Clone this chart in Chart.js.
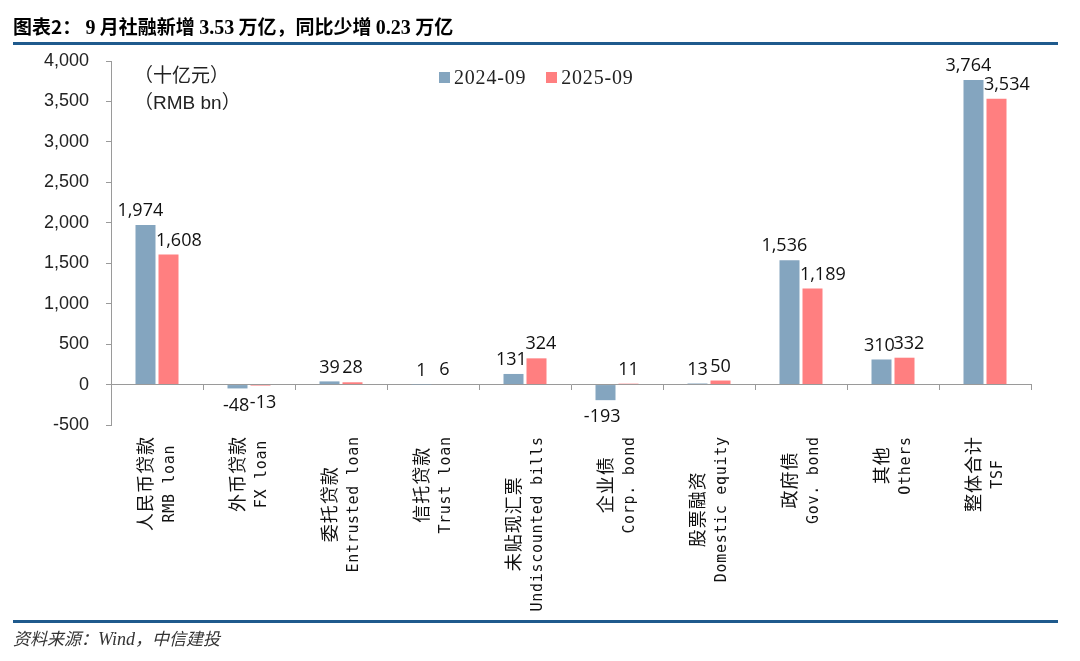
<!DOCTYPE html>
<html><head><meta charset="utf-8">
<script src="https://cdn.jsdelivr.net/npm/chart.js@4.4.1/dist/chart.umd.min.js"></script>
<style>
body{margin:0;width:1080px;height:661px;background:#fff;position:relative;overflow:hidden;font-family:"Noto Sans CJK SC",sans-serif;}
#title{position:absolute;left:13px;top:12px;font-size:19px;font-weight:bold;color:#000;white-space:nowrap;}
#title .n{font-family:"Liberation Serif",serif;font-weight:bold;font-size:20px;}
#topline{position:absolute;left:13px;top:42px;width:1045px;height:3px;background:#1f5a8d}
#botline{position:absolute;left:13px;top:620px;width:1045px;height:3px;background:#1f5a8d}
#src{position:absolute;left:13px;top:625px;font-size:17px;font-style:italic;color:#333}
#src .n{font-family:"Liberation Serif",serif;font-size:18px}
#wrap{position:absolute;left:0;top:0;width:1080px;height:661px}
#unit{position:absolute;left:134px;top:60px;font-size:19px;color:#222;line-height:27px}
#unit .l{font-family:"Liberation Sans",sans-serif;font-size:19px}
#legend{position:absolute;left:439px;top:66px;display:flex;font-family:"Liberation Serif",serif;font-size:20px;color:#222;letter-spacing:0.8px}
#legend .it{display:flex;align-items:center;margin-right:20px}
#legend .bx{width:11px;height:11px;margin-right:4px}
</style>
</head><body>
<div id="wrap"><canvas id="c" width="1080" height="661"></canvas></div>
<div id="title">图表2： <span class="n">9</span> 月社融新增 <span class="n">3.53</span> 万亿，同比少增 <span class="n">0.23</span> 万亿</div>
<div id="topline"></div>
<div id="unit">（十亿元）<br>（<span class="l">RMB bn</span>）</div>
<div id="legend"></div>
<div id="botline"></div>
<div id="src">资料来源：<span class="n">Wind</span>，中信建投</div>
<script>
const categoriesCN = ['人民币贷款','外币贷款','委托贷款','信托贷款','未贴现汇票','企业债','股票融资','政府债','其他','整体合计'];
const categoriesEN = ['RMB loan','FX loan','Entrusted loan','Trust loan','Undiscounted bills','Corp. bond','Domestic equity','Gov. bond','Others','TSF'];
const seriesNames = ['2024-09','2025-09'];
const series2024 = [1974,-48,39,1,131,-193,13,1536,310,3764];
const series2025 = [1608,-13,28,6,324,11,50,1189,332,3534];
const yMin = -500, yMax = 4000, yStep = 500;
const colors = ['#84a5bf','#ff7f80'];

const lg = document.getElementById('legend');
seriesNames.forEach((n,i)=>{
  const d=document.createElement('div');d.className='it';
  d.innerHTML='<span class="bx" style="background:'+colors[i]+'"></span>'+n;
  lg.appendChild(d);
});

const fmt = v => v.toLocaleString('en-US');

const dataLabels = {
  id:'dataLabels',
  afterDatasetsDraw(chart){
    const ctx=chart.ctx;
    ctx.save();
    ctx.font='18px "Open Sans", sans-serif';
    ctx.fillStyle='#111';
    ctx.textAlign='center';
    chart.data.datasets.forEach((ds,di)=>{
      const meta=chart.getDatasetMeta(di);
      meta.data.forEach((bar,i)=>{
        const v=ds.data[i];
        const t=fmt(v);
        const w=ctx.measureText(t).width;
        const bw=bar.width;
        let dx=0;
        if(w>bw+6){ dx = di===0 ? -(w-bw)/5 : (w-bw)/2.5; }
        if(v>=0){ctx.textBaseline='bottom';ctx.fillText(t,bar.x+dx,bar.y-5);}
        else {ctx.textBaseline='top';ctx.fillText(t,bar.x+dx,bar.y+8);}
      });
    });
    ctx.restore();
  }
};

const xLabels = {
  id:'xLabels',
  afterDraw(chart){
    const ctx=chart.ctx, xs=chart.scales.x;
    const top=chart.chartArea.bottom+12;
    const cnFont='18px "Noto Sans CJK SC", sans-serif', cnLS=1;
    const enFont='15px "DejaVu Sans Mono", monospace', enLS=0.7;
    ctx.save();
    ctx.fillStyle='#111';
    categoriesCN.forEach((cn,i)=>{
      const en=categoriesEN[i];
      const x=xs.getPixelForValue(i);
      ctx.font=cnFont; ctx.letterSpacing=cnLS+'px';
      const w1=ctx.measureText(cn).width-cnLS;
      ctx.font=enFont; ctx.letterSpacing=enLS+'px';
      const w2=ctx.measureText(en).width-enLS;
      const L=Math.max(w1,w2);
      const cy=top+L/2;
      ctx.textAlign='center';ctx.textBaseline='middle';
      ctx.save();ctx.translate(x-12,cy);ctx.rotate(-Math.PI/2);
      ctx.font=cnFont; ctx.letterSpacing=cnLS+'px';
      ctx.fillText(cn,cnLS/2,0);ctx.restore();
      ctx.save();ctx.translate(x+13,cy);ctx.rotate(-Math.PI/2);
      ctx.font=enFont; ctx.letterSpacing=enLS+'px';
      ctx.fillText(en,enLS/2,0);ctx.restore();
    });
    ctx.restore();
  }
};

new Chart(document.getElementById('c'),{
  type:'bar',
  data:{
    labels:categoriesCN,
    datasets:[
      {label:seriesNames[0],data:series2024,backgroundColor:colors[0],categoryPercentage:0.5,barPercentage:0.87},
      {label:seriesNames[1],data:series2025,backgroundColor:colors[1],categoryPercentage:0.5,barPercentage:0.87}
    ]
  },
  options:{
    responsive:false,animation:false,
    layout:{padding:{left:0,top:61,right:49,bottom:236}},
    plugins:{legend:{display:false},tooltip:{enabled:false}},
    scales:{
      x:{
        position:{y:0},
        ticks:{display:false},
        grid:{display:true,drawOnChartArea:false,drawTicks:true,tickLength:5,color:'#9a9a9a',offset:true},
        border:{display:true,color:'#9a9a9a',width:1}
      },
      y:{
        min:yMin,max:yMax,
        ticks:{stepSize:yStep,callback:v=>fmt(v),font:{family:'"Liberation Sans", sans-serif',size:18},color:'#222',padding:17},
        grid:{display:true,drawOnChartArea:false,drawTicks:true,tickLength:5,color:'#9a9a9a'},
        border:{display:true,color:'#9a9a9a',width:1},
        afterFit(s){s.width=111;}
      }
    }
  },
  plugins:[dataLabels,xLabels]
});
</script>
</body></html>
